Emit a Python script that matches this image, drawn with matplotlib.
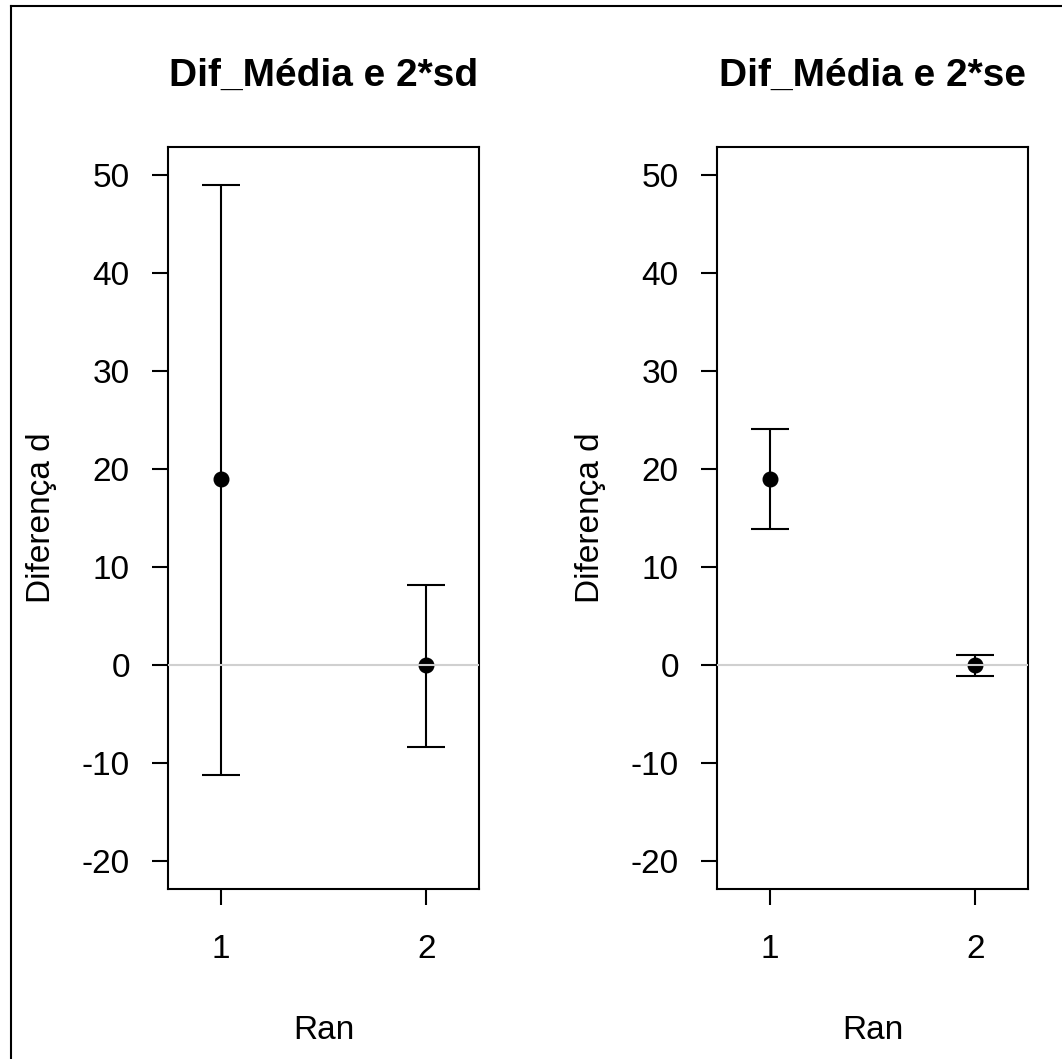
import matplotlib
matplotlib.use("Agg")
import matplotlib.pyplot as plt
from matplotlib.lines import Line2D

plt.rcParams.update({
    "font.family": ["Liberation Sans", "DejaVu Sans"],
    "axes.linewidth": 1.5,
    "xtick.major.width": 1.5,
    "ytick.major.width": 1.5,
    "axes.unicode_minus": False,
})

# ---- data ----
groups = [1, 2]
titles = ["Dif_Média e 2*sd", "Dif_Média e 2*se"]
means = [19.0, 0.0]
upper_sd = [49.0, 8.15]
lower_sd = [-11.25, -8.4]
upper_se = [24.05, 1.0]
lower_se = [13.9, -1.15]
yticks = [-20, -10, 0, 10, 20, 30, 40, 50]

panels = [(upper_sd, lower_sd), (upper_se, lower_se)]
lefts = [168 / 1062, 717 / 1062]

fig = plt.figure(figsize=(10.62, 10.59), dpi=100)

for left, title, (up, lo) in zip(lefts, titles, panels):
    ax = fig.add_axes([left, 1 - 889 / 1059, 311 / 1062, 742 / 1059])
    err = [[m - l for m, l in zip(means, lo)], [u - m for m, u in zip(means, up)]]
    ax.errorbar(groups, means, yerr=err, fmt="o", color="black", ms=10.5,
                ecolor="black", elinewidth=1.5, capsize=13.7, capthick=1.5, zorder=2)
    ax.axhline(0, color="#d0d0d0", lw=1.5, zorder=3)
    ax.set_xlim(0.744, 2.256)
    ax.set_ylim(-22.86, 52.86)
    ax.set_xticks(groups)
    ax.set_yticks(yticks)
    ax.tick_params(axis="y", labelsize=24, length=11.5, pad=16, color="black")
    ax.tick_params(axis="x", labelsize=24, length=11.5, pad=21, color="black")
    ax.set_xlabel("Ran", fontsize=24, labelpad=36)
    ax.set_ylabel("Diferença d", fontsize=24, labelpad=18)
    ax.set_title(title, fontsize=28, fontweight="bold", pad=44)

# outer frame (only top and left edges visible in the reference)
x0, y0 = 11 / 1062, 1 - 6 / 1059
fig.add_artist(Line2D([x0, 1.0], [y0, y0], color="black", lw=1.5, transform=fig.transFigure))
fig.add_artist(Line2D([x0, x0], [0.0, y0], color="black", lw=1.5, transform=fig.transFigure))

fig.savefig("out.png", dpi=100)
